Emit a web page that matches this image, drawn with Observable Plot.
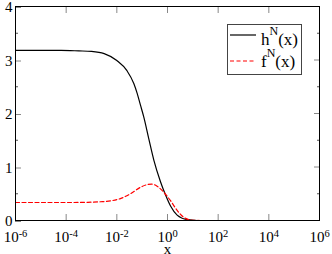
<!DOCTYPE html>
<html>
<head>
<meta charset="utf-8">
<script src="https://cdn.jsdelivr.net/npm/d3@7"></script>
<script src="https://cdn.jsdelivr.net/npm/@observablehq/plot@0.6"></script>
<style>
  html, body { margin: 0; padding: 0; background: white; }
  #chart { position: relative; width: 332px; height: 254px; }
  #chart svg, #chart svg text, #chart svg tspan { font-family: 'Liberation Serif', 'Times New Roman', serif !important; }
  #chart svg text { font-size: 15px; }
</style>
</head>
<body>
<div id="chart"></div>
<script>
// h^N(x): log10(x) positions and values
const hLogX = [-6, -5, -4.2, -3.5, -3.0, -2.5, -2.0, -1.6, -1.33, -1.2, -1.07, -0.94, -0.74, -0.54, -0.28, -0.08, 0.12, 0.38, 0.78, 1.17, 1.6, 6];
const hVal  = [3.18, 3.18, 3.18, 3.17, 3.16, 3.12, 2.99, 2.80, 2.56, 2.38, 2.16, 1.94, 1.53, 1.13, 0.73, 0.48, 0.27, 0.10, 0.015, 0.0, 0, 0];
// f^N(x)
const fLogX = [-6, -4, -3.2, -2.65, -2.2, -1.86, -1.46, -1.07, -0.8, -0.62, -0.41, -0.15, 0.12, 0.38, 0.64, 0.98, 1.3, 6];
const fVal  = [0.336, 0.336, 0.34, 0.35, 0.37, 0.41, 0.50, 0.62, 0.67, 0.68, 0.64, 0.53, 0.37, 0.19, 0.06, 0.005, 0, 0];
// ticks
const xTicks = [1e-6, 1e-4, 1e-2, 1e0, 1e2, 1e4, 1e6];
const yTicks = [0, 1, 2, 3, 4];
const yMinor = [0.5, 1.5, 2.5, 3.5];
const seriesNames = ["h", "f"];

const hData = hLogX.map((lx, i) => ({x: Math.pow(10, lx), y: hVal[i]}));
const fData = fLogX.map((lx, i) => ({x: Math.pow(10, lx), y: fVal[i]}));

const empty = () => "";

const chart = Plot.plot({
  width: 332, height: 254,
  marginLeft: 15, marginRight: 13, marginTop: 6, marginBottom: 34,
  x: {type: "log", domain: [1e-6, 1e6]},
  y: {domain: [0, 4]},
  style: "font-size: 15px; background: white; color: black;",
  marks: [
    Plot.line(hData, {x: "x", y: "y", stroke: "black", strokeWidth: 1.2, curve: "monotone-x"}),
    Plot.line(fData, {x: "x", y: "y", stroke: "#ff0000", strokeWidth: 1.2, strokeDasharray: "4,2.5", curve: "monotone-x"}),
    Plot.axisX({ticks: xTicks, tickSize: -6, tickPadding: 17, tickFormat: d => String(Math.round(Math.log10(d))),
      label: "x", labelAnchor: "center", labelOffset: 33, labelArrow: "none", stroke: "#888"}),
    Plot.axisX({anchor: "top", ticks: xTicks, tickSize: -6, tickFormat: empty, label: null, stroke: "#888"}),
    Plot.axisY({ticks: yTicks, tickSize: -6, tickPadding: 9, tickFormat: d => String(d), label: null, stroke: "#888", dy: 1}),
    Plot.axisY({ticks: yMinor, tickSize: -3, tickFormat: empty, label: null, stroke: "#555"}),
    Plot.axisY({anchor: "right", ticks: yTicks, tickSize: -6, tickFormat: empty, label: null, stroke: "#888"}),
    Plot.axisY({anchor: "right", ticks: yMinor, tickSize: -3, tickFormat: empty, label: null, stroke: "#555"}),
    Plot.frame({stroke: "black", strokeWidth: 1})
  ]
});
document.getElementById("chart").appendChild(chart);

// turn exponent labels into 10^n with superscript
d3.select(chart).selectAll('g[aria-label="x-axis tick label"] text').each(function() {
  const t = this.textContent;
  if (!t) return;
  const sel = d3.select(this);
  sel.text("10");
  sel.append("tspan").attr("dy", "-0.5em").style("font-size", "10.5px").text(t);
});

// legend
const svg = d3.select(chart);
const lg = svg.append("g");
lg.append("rect").attr("x", 227.5).attr("y", 24.5).attr("width", 74).attr("height", 50)
  .attr("fill", "white").attr("stroke", "#444").attr("stroke-width", 1);
const rows = [
  {name: seriesNames[0], y: 35, base: 45, stroke: "black", dash: null},
  {name: seriesNames[1], y: 61, base: 67, stroke: "#ff0000", dash: "4,2.5"}
];
rows.forEach(r => {
  lg.append("line").attr("x1", 230).attr("x2", 256).attr("y1", r.y).attr("y2", r.y)
    .attr("stroke", r.stroke).attr("stroke-width", 1.2).attr("stroke-dasharray", r.dash);
  const t = lg.append("text").attr("x", 261).attr("y", r.base).attr("fill", "black")
    .attr("text-anchor", "start").style("text-anchor", "start").style("font-size", "17px");
  t.append("tspan").text(r.name);
  t.append("tspan").attr("dy", -10).style("font-size", "12px").text("N");
  t.append("tspan").attr("dy", 10).text("(x)");
});
</script>
</body>
</html>
